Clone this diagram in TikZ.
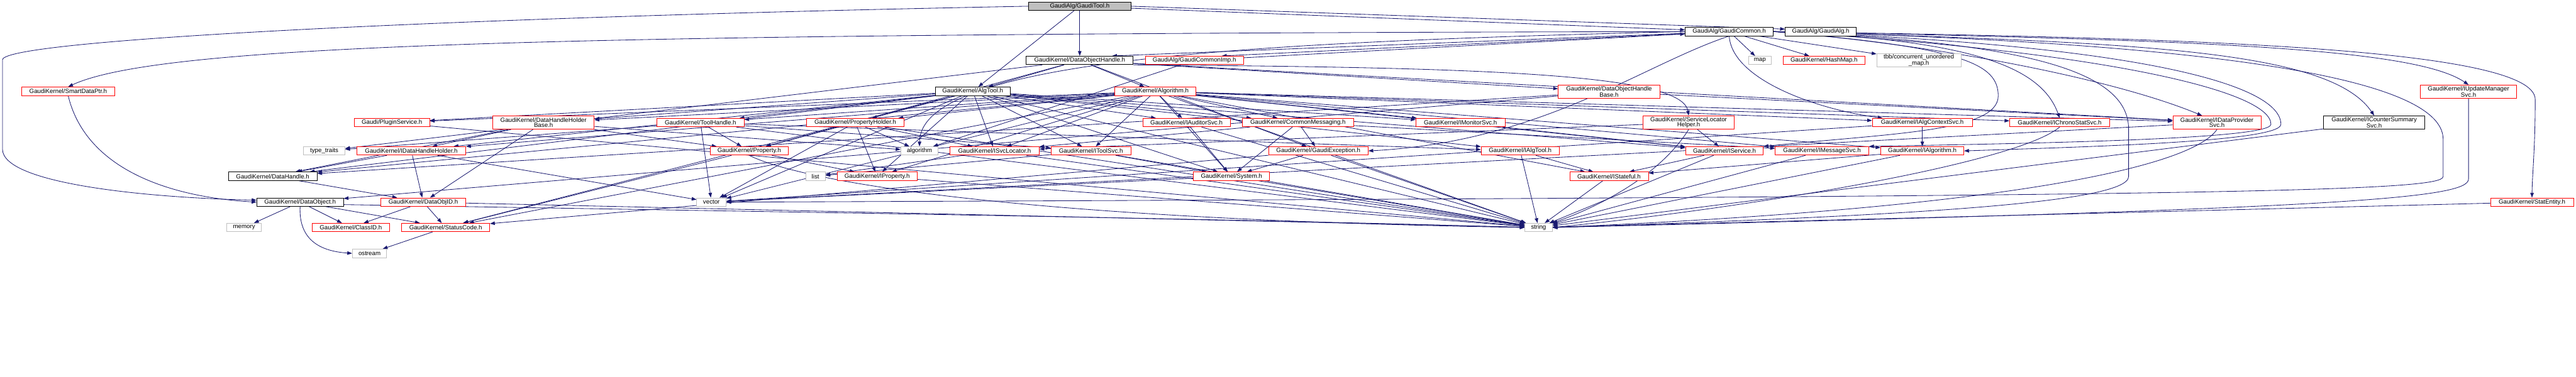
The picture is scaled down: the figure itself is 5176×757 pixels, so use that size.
\documentclass[tikz,border=0pt]{standalone}
\usepackage{fontspec}
\setmainfont{Liberation Sans}
\usetikzlibrary{arrows.meta,backgrounds}
\definecolor{edgeblue}{HTML}{191970}
\definecolor{boxred}{HTML}{FF0000}
\definecolor{boxgray}{HTML}{BFBFBF}

\begin{document}
\begin{tikzpicture}[x=0.02cm, y=-0.02cm,
    hdr/.style={draw, line width=0.6pt, fill=white, inner sep=0pt, minimum height=0.34cm,
                align=center, font=\fontsize{7}{6.2}\selectfont},
    hdrred/.style={hdr, draw=boxred},
    hdrblack/.style={hdr, draw=black},
    hdrsys/.style={hdr, draw=boxgray},
    hdrroot/.style={hdr, draw=black, fill=boxgray},
    twoline/.style={minimum height=0.54cm},
    dep/.style={edgeblue, line width=0.6pt, -{Triangle[length=5.5pt,width=4pt]}}]
    \useasboundingbox (0,0) rectangle (5176,757);

    % Row 0
    \node[hdrroot, minimum width=4.14cm] (gt) at (2169.5,12.5) {GaudiAlg/GaudiTool.h};
    % Row 1
    \node[hdrblack, minimum width=3.54cm] (gc) at (3474.5,63.5) {GaudiAlg/GaudiCommon.h};
    \node[hdrblack, minimum width=2.86cm] (ga) at (3658.5,63.5) {GaudiAlg/GaudiAlg.h};
    % Row 2
    \node[hdrblack, minimum width=4.30cm] (doh) at (2169.5,121.5) {GaudiKernel/DataObjectHandle.h};
    \node[hdrred, minimum width=3.96cm] (gci) at (2400,121.5) {GaudiAlg/GaudiCommonImp.h};
    \node[hdrsys, minimum width=0.92cm] (map) at (3536,121.5) {map};
    \node[hdrred, minimum width=3.28cm] (hm) at (3665,121.5) {GaudiKernel/HashMap.h};
    \node[hdrsys, twoline, minimum width=3.38cm] (tbb) at (3855.5,121.5) {tbb/concurrent\_unordered\\\_map.h};
    % Row 3
    \node[hdrred, minimum width=3.76cm] (sdp) at (137,183.5) {GaudiKernel/SmartDataPtr.h};
    \node[hdrblack, minimum width=3.02cm] (at) at (1954.5,183.5) {GaudiKernel/AlgTool.h};
    \node[hdrred, minimum width=3.26cm] (alg) at (2321.5,183.5) {GaudiKernel/Algorithm.h};
    \node[hdrred, twoline, minimum width=4.08cm] (dohb) at (3233,184.5) {GaudiKernel/DataObjectHandle\\Base.h};
    \node[hdrred, twoline, minimum width=3.88cm] (iums) at (4960,184.5) {GaudiKernel/IUpdateManager\\Svc.h};
    % Row 4
    \node[hdrred, minimum width=3.02cm] (ps) at (787.5,246.5) {Gaudi/PluginService.h};
    \node[hdrred, twoline, minimum width=4.08cm] (dhhb) at (1092,246.5) {GaudiKernel/DataHandleHolder\\Base.h};
    \node[hdrred, minimum width=3.50cm] (th) at (1407.5,246.5) {GaudiKernel/ToolHandle.h};
    \node[hdrred, minimum width=3.90cm] (ph) at (1718.5,246.5) {GaudiKernel/PropertyHolder.h};
    \node[hdrred, minimum width=3.52cm] (ias) at (2384,246.5) {GaudiKernel/IAuditorSvc.h};
    \node[hdrred, minimum width=4.48cm] (cm) at (2608,246.5) {GaudiKernel/CommonMessaging.h};
    \node[hdrred, minimum width=3.58cm] (ims) at (2934.5,246.5) {GaudiKernel/IMonitorSvc.h};
    \node[hdrred, twoline, minimum width=3.68cm] (slh) at (3393,246.5) {GaudiKernel/ServiceLocator\\Helper.h};
    \node[hdrred, minimum width=4.02cm] (iacs) at (3862.5,246.5) {GaudiKernel/IAlgContextSvc.h};
    \node[hdrred, minimum width=4.02cm] (icss) at (4138.5,246.5) {GaudiKernel/IChronoStatSvc.h};
    \node[hdrred, twoline, minimum width=3.54cm] (idps) at (4454.5,246.5) {GaudiKernel/IDataProvider\\Svc.h};
    \node[hdrblack, twoline, minimum width=4.06cm] (icsum) at (4770.5,246.5) {GaudiKernel/ICounterSummary\\Svc.h};
    % Row 5
    \node[hdrsys, minimum width=1.66cm] (tt) at (651.5,303.5) {type\_traits};
    \node[hdrred, minimum width=4.38cm] (idhh) at (826.5,303.5) {GaudiKernel/IDataHandleHolder.h};
    \node[hdrred, minimum width=3.14cm] (prop) at (1505.5,303.5) {GaudiKernel/Property.h};
    \node[hdrsys, minimum width=1.50cm] (algo) at (1847.5,303.5) {algorithm};
    \node[hdrred, minimum width=3.58cm] (isl) at (1998.5,303.5) {GaudiKernel/ISvcLocator.h};
    \node[hdrred, minimum width=3.20cm] (its) at (2192,303.5) {GaudiKernel/IToolSvc.h};
    \node[hdrred, minimum width=4.00cm] (ge) at (2649,303.5) {GaudiKernel/GaudiException.h};
    \node[hdrred, minimum width=3.14cm] (iat) at (3054.5,303.5) {GaudiKernel/IAlgTool.h};
    \node[hdrred, minimum width=3.12cm] (isv) at (3465,303.5) {GaudiKernel/IService.h};
    \node[hdrred, minimum width=3.76cm] (imsg) at (3661,303.5) {GaudiKernel/IMessageSvc.h};
    \node[hdrred, minimum width=3.34cm] (ialg) at (3862.5,303.5) {GaudiKernel/IAlgorithm.h};
    % Row 6
    \node[hdrblack, minimum width=3.56cm] (dh) at (548,354.5) {GaudiKernel/DataHandle.h};
    \node[hdrsys, minimum width=0.78cm] (list) at (1638.5,354.5) {list};
    \node[hdrred, minimum width=3.22cm] (iprop) at (1762.5,354.5) {GaudiKernel/IProperty.h};
    \node[hdrred, minimum width=3.06cm] (sys) at (2474.5,354.5) {GaudiKernel/System.h};
    \node[hdrred, minimum width=3.16cm] (ist) at (3233,354.5) {GaudiKernel/IStateful.h};
    % Row 7
    \node[hdrblack, minimum width=3.48cm] (do) at (603,406.5) {GaudiKernel/DataObject.h};
    \node[hdrred, minimum width=3.42cm] (doid) at (850.5,406.5) {GaudiKernel/DataObjID.h};
    \node[hdrsys, minimum width=1.18cm] (vec) at (1429.5,406.5) {vector};
    \node[hdrred, minimum width=3.34cm] (se) at (5087.5,406.5) {GaudiKernel/StatEntity.h};
    % Row 8
    \node[hdrsys, minimum width=1.38cm] (mem) at (490.5,457.5) {memory};
    \node[hdrred, minimum width=3.12cm] (cid) at (705,457.5) {GaudiKernel/ClassID.h};
    \node[hdrred, minimum width=3.54cm] (sc) at (895.5,457.5) {GaudiKernel/StatusCode.h};
    \node[hdrsys, minimum width=1.10cm] (str) at (3091.5,457.5) {string};
    % Row 9
    \node[hdrsys, minimum width=1.38cm] (ost) at (742.5,509.5) {ostream};

    \begin{scope}[on background layer]
        \fill[white] (0,0) rectangle (5176,757);

        % GaudiAlg/GaudiTool.h
        \foreach \dst in {gc,at,doh} \draw[dep] (gt) -- (\dst);
        \draw[dep] (gt.east) -- ([yshift=0.1cm]ga.west);
        \draw[dep] (gt.west) .. controls (900,35) and (10,80) .. (5,120) -- (5,300)
            .. controls (5,370) and (300,398) .. ([yshift=0.08cm]do.west);

        % GaudiAlg/GaudiCommon.h
        \foreach \dst in {map,hm,tbb} \draw[dep] (gc) -- (\dst);
        \draw[dep] (gc) -- ([xshift=1.3cm]doh.north);
        \draw[dep] (gc) -- ([xshift=1.1cm]gci.north);
        \draw[dep] (gc.west) .. controls (1200,68) and (330,85) .. (sdp.north);
        \draw[dep] (gc.west) .. controls (2500,85) and (1850,120) .. (algo.north);
        \draw[dep] (gc.south) .. controls (3300,130) and (3100,285) .. (ge.east);
        \draw[dep] (gc.south) .. controls (3480,160) and (3650,220) .. ([xshift=-1.6cm]iacs.north);
        \draw[dep] (gc.east) .. controls (3950,80) and (4100,130) .. (icss.north);
        \draw[dep] (gc.east) .. controls (3900,90) and (4250,160) .. ([xshift=-0.6cm]idps.north);
        \draw[dep] (gc.east) .. controls (4300,85) and (4680,100) .. (icsum.north);
        \draw[dep] (gc.east) .. controls (4400,80) and (4850,95) .. (iums.north);
        \draw[dep] (gc.east) .. controls (4300,75) and (5094,90) .. (5094,200)
            .. controls (5094,300) and (5088,350) .. (se.north);
        \draw[dep] (gc.east) .. controls (3950,95) and (4015,130) .. (4015,193)
            .. controls (4015,265) and (3800,268) .. (isv.north east);
        \draw[dep] (gc.east) .. controls (4200,100) and (4563,180) .. (4563,250)
            .. controls (4563,280) and (4100,288) .. (imsg.north east);
        \draw[dep] (gc.east) .. controls (4300,90) and (4583,170) .. (4583,250)
            .. controls (4583,285) and (4200,295) .. (ialg.east);
        \draw[dep] (gc.east) .. controls (4100,85) and (4277,150) .. (4277,260) -- (4277,355)
            .. controls (4277,410) and (3800,435) .. (str.east);
        \draw[dep] (gc.east) .. controls (4400,85) and (4909,150) .. (4909,280) -- (4909,355)
            .. controls (4909,385) and (4500,395) .. (vec.east);

        % GaudiAlg/GaudiCommonImp.h
        \foreach \dst in {gc,algo} \draw[dep] (gci) -- (\dst);

        % GaudiKernel/SmartDataPtr.h
        \draw[dep] (sdp.south) .. controls (170,330) and (320,395) .. (do.west);

        % GaudiKernel/DataObjectHandle.h
        \foreach \dst in {at,alg,dohb,idps,prop,tt,ge} \draw[dep] (doh) -- (\dst);
        \draw[dep] (doh.south east) .. controls (3000,135) and (3380,150) .. (slh.north);

        % GaudiKernel/AlgTool.h
        \foreach \dst in {ps,dhhb,th,ph,ias,cm,ims,idhh,isl,its,iat,isv,iprop,sys,vec,str,sc,dh}
            \draw[dep] (at) -- (\dst);

        % GaudiKernel/Algorithm.h
        \foreach \dst in {ps,dhhb,th,ph,ias,cm,ims,iacs,icss,idps,idhh,isl,its,ialg,imsg,isv,iprop,sys,ist,vec,str,sc,dh}
            \draw[dep] (alg) -- (\dst);

        % the rest
        \foreach \dst in {dh,do,idps} \draw[dep] (dohb) -- (\dst);
        \draw[dep] (iums.south) -- (4960,360) .. controls (4960,400) and (4700,420) .. (str.east);
        \draw[dep] (ps) -- (str);
        \foreach \dst in {idhh,doid,dh,prop,algo} \draw[dep] (dhhb) -- (\dst);
        \foreach \dst in {vec,str,prop,iat,its,tt} \draw[dep] (th) -- (\dst);
        \foreach \dst in {prop,algo,isl,iprop,vec,str} \draw[dep] (ph) -- (\dst);
        \foreach \dst in {sys,str} \draw[dep] (ias) -- (\dst);
        \foreach \dst in {ge,isl,sys,imsg} \draw[dep] (cm) -- (\dst);
        \draw[dep] (ims) -- (isv);
        \foreach \dst in {isl,isv} \draw[dep] (slh) -- (\dst);
        \draw[dep] (slh.south) .. controls (3330,360) and (3200,420) .. (str.north east);
        \foreach \dst in {ialg,vec} \draw[dep] (iacs) -- (\dst);
        \draw[dep] (icss.south) .. controls (4050,330) and (3500,420) .. (str.east);
        \draw[dep] (idps.south) .. controls (4400,340) and (4000,420) .. (str.east);
        \draw[dep] (idps) -- (vec);
        \draw[dep] (icsum) -- (str);
        \foreach \dst in {dh,doid,vec} \draw[dep] (idhh) -- (\dst);
        \draw[dep] (prop.south) .. controls (1600,360) and (2000,440) .. (str.west);
        \foreach \dst in {iprop,sc} \draw[dep] (prop) -- (\dst);
        \foreach \dst in {list,str} \draw[dep] (isl) -- (\dst);
        \foreach \dst in {sys,str,list} \draw[dep] (its) -- (\dst);
        \foreach \dst in {str,sys,sc} \draw[dep] (ge) -- (\dst);
        \foreach \dst in {str,ist} \draw[dep] (iat) -- (\dst);
        \foreach \dst in {ist,str} \draw[dep] (isv) -- (\dst);
        \draw[dep] (imsg) -- (str);
        \foreach \dst in {ist,str} \draw[dep] (ialg) -- (\dst);
        \draw[dep] (dh) -- (doid);
        \draw[dep] (iprop) -- (str);
        \foreach \dst in {str,vec} \draw[dep] (sys) -- (\dst);
        \draw[dep] (ist) -- (str);
        \foreach \dst in {mem,cid,sc} \draw[dep] (do) -- (\dst);
        \draw[dep] (do.south) .. controls (600,480) and (640,505) .. (ost.west);
        \draw[dep] ([yshift=-0.1cm]do.east) .. controls (1500,425) and (2500,440) .. (str.west);
        \foreach \dst in {cid,sc,str} \draw[dep] (doid) -- (\dst);
        \draw[dep] (se) -- (str);
        \draw[dep] (sc) -- (ost);
    \end{scope}
\end{tikzpicture}
\end{document}
